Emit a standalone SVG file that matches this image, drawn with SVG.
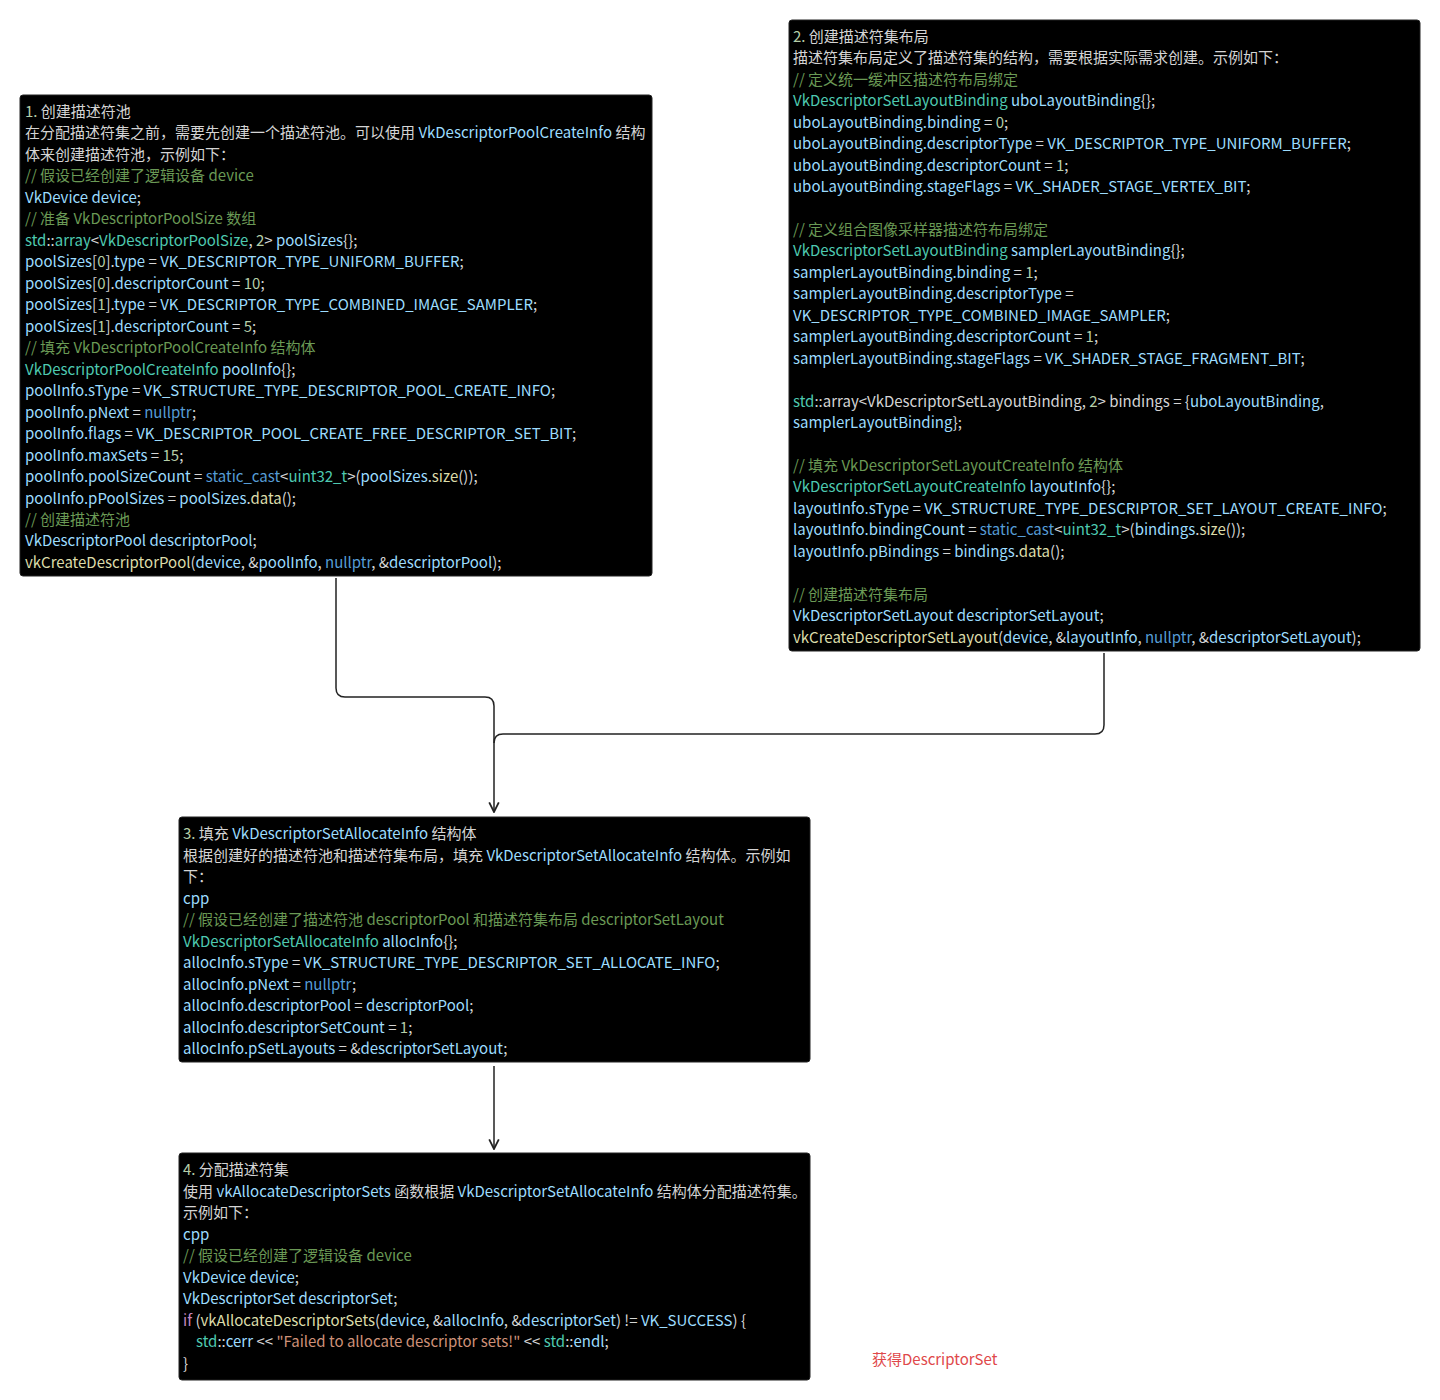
<svg xmlns="http://www.w3.org/2000/svg" width="1440" height="1400" viewBox="0 0 1440 1400">
<defs>
<style>
text{font-family:"Noto Sans CJK SC","Noto Sans",sans-serif;font-size:15px;fill:#d4d4d4}
.box{fill:#000;stroke:#222;stroke-width:1}
.v{fill:#9cdcfe}.ty{fill:#4ec9b0}.c{fill:#6a9955}.f{fill:#dcdcaa}.k{fill:#569cd6}.n{fill:#b5cea8}.s{fill:#ce9178}.p{fill:#c586c0}
.e{fill:none;stroke:#222;stroke-width:1.5}
</style>
<marker id="a" viewBox="0 0 10 10" refX="9" refY="5" markerWidth="8" markerHeight="8" orient="auto"><path d="M1 1L9 5L1 9" fill="none" stroke="#222" stroke-width="1.5"/></marker>
</defs>
<rect width="1440" height="1400" fill="#fff"/>
<g id="edges">
<path class="e" d="M336 578V688Q336 697 345 697H485Q494 697 494 706V812" marker-end="url(#a)"/>
<path class="e" d="M1104 653V725Q1104 734 1095 734H503Q494 734 494 743"/>
<path class="e" d="M494 1066V1149" marker-end="url(#a)"/>
</g>
<g id="n1">
<rect class="box" x="20" y="95" width="632" height="481" rx="3"/>
<text x="25" y="117"><tspan class="n">1.</tspan> 创建描述符池</text>
<text x="25" y="138">在分配描述符集之前，需要先创建一个描述符池。可以使用 <tspan class="v">VkDescriptorPoolCreateInfo</tspan> 结构</text>
<text x="25" y="160">体来创建描述符池，示例如下：</text>
<text x="25" y="181" class="c">// 假设已经创建了逻辑设备 device</text>
<text x="25" y="203" class="v">VkDevice device<tspan fill="#d4d4d4">;</tspan></text>
<text x="25" y="224" class="c">// 准备 VkDescriptorPoolSize 数组</text>
<text x="25" y="246"><tspan class="ty">std</tspan>::<tspan class="ty">array</tspan>&lt;<tspan class="ty">VkDescriptorPoolSize</tspan>, <tspan class="n">2</tspan>&gt; <tspan class="v">poolSizes</tspan>{};</text>
<text x="25" y="267"><tspan class="v">poolSizes</tspan>[<tspan class="n">0</tspan>].<tspan class="v">type</tspan> = <tspan class="v">VK_DESCRIPTOR_TYPE_UNIFORM_BUFFER</tspan>;</text>
<text x="25" y="289"><tspan class="v">poolSizes</tspan>[<tspan class="n">0</tspan>].<tspan class="v">descriptorCount</tspan> = <tspan class="n">10</tspan>;</text>
<text x="25" y="310"><tspan class="v">poolSizes</tspan>[<tspan class="n">1</tspan>].<tspan class="v">type</tspan> = <tspan class="v">VK_DESCRIPTOR_TYPE_COMBINED_IMAGE_SAMPLER</tspan>;</text>
<text x="25" y="332"><tspan class="v">poolSizes</tspan>[<tspan class="n">1</tspan>].<tspan class="v">descriptorCount</tspan> = <tspan class="n">5</tspan>;</text>
<text x="25" y="353" class="c">// 填充 VkDescriptorPoolCreateInfo 结构体</text>
<text x="25" y="375"><tspan class="ty">VkDescriptorPoolCreateInfo</tspan> <tspan class="v">poolInfo</tspan>{};</text>
<text x="25" y="396"><tspan class="v">poolInfo.sType</tspan> = <tspan class="v">VK_STRUCTURE_TYPE_DESCRIPTOR_POOL_CREATE_INFO</tspan>;</text>
<text x="25" y="418"><tspan class="v">poolInfo.pNext</tspan> = <tspan class="k">nullptr</tspan>;</text>
<text x="25" y="439"><tspan class="v">poolInfo.flags</tspan> = <tspan class="v">VK_DESCRIPTOR_POOL_CREATE_FREE_DESCRIPTOR_SET_BIT</tspan>;</text>
<text x="25" y="461"><tspan class="v">poolInfo.maxSets</tspan> = <tspan class="n">15</tspan>;</text>
<text x="25" y="482"><tspan class="v">poolInfo.poolSizeCount</tspan> = <tspan class="k">static_cast</tspan>&lt;<tspan class="ty">uint32_t</tspan>&gt;(<tspan class="v">poolSizes</tspan>.<tspan class="f">size</tspan>());</text>
<text x="25" y="504"><tspan class="v">poolInfo.pPoolSizes</tspan> = <tspan class="v">poolSizes</tspan>.<tspan class="f">data</tspan>();</text>
<text x="25" y="525" class="c">// 创建描述符池</text>
<text x="25" y="546"><tspan class="v">VkDescriptorPool descriptorPool</tspan>;</text>
<text x="25" y="568"><tspan class="f">vkCreateDescriptorPool</tspan>(<tspan class="v">device</tspan>, &amp;<tspan class="v">poolInfo</tspan>, <tspan class="k">nullptr</tspan>, &amp;<tspan class="v">descriptorPool</tspan>);</text>
</g>
<g id="n2">
<rect class="box" x="789" y="20" width="631" height="631" rx="3"/>
<text x="793" y="42"><tspan class="n">2.</tspan> 创建描述符集布局</text>
<text x="793" y="63">描述符集布局定义了描述符集的结构，需要根据实际需求创建。示例如下：</text>
<text x="793" y="85" class="c">// 定义统一缓冲区描述符布局绑定</text>
<text x="793" y="106"><tspan class="ty">VkDescriptorSetLayoutBinding</tspan> <tspan class="v">uboLayoutBinding</tspan>{};</text>
<text x="793" y="128"><tspan class="v">uboLayoutBinding.binding</tspan> = <tspan class="n">0</tspan>;</text>
<text x="793" y="149"><tspan class="v">uboLayoutBinding.descriptorType</tspan> = <tspan class="v">VK_DESCRIPTOR_TYPE_UNIFORM_BUFFER</tspan>;</text>
<text x="793" y="171"><tspan class="v">uboLayoutBinding.descriptorCount</tspan> = <tspan class="n">1</tspan>;</text>
<text x="793" y="192"><tspan class="v">uboLayoutBinding.stageFlags</tspan> = <tspan class="v">VK_SHADER_STAGE_VERTEX_BIT</tspan>;</text>
<text x="793" y="235" class="c">// 定义组合图像采样器描述符布局绑定</text>
<text x="793" y="256"><tspan class="ty">VkDescriptorSetLayoutBinding</tspan> <tspan class="v">samplerLayoutBinding</tspan>{};</text>
<text x="793" y="278"><tspan class="v">samplerLayoutBinding.binding</tspan> = <tspan class="n">1</tspan>;</text>
<text x="793" y="299"><tspan class="v">samplerLayoutBinding.descriptorType</tspan> =</text>
<text x="793" y="321"><tspan class="v">VK_DESCRIPTOR_TYPE_COMBINED_IMAGE_SAMPLER</tspan>;</text>
<text x="793" y="342"><tspan class="v">samplerLayoutBinding.descriptorCount</tspan> = <tspan class="n">1</tspan>;</text>
<text x="793" y="364"><tspan class="v">samplerLayoutBinding.stageFlags</tspan> = <tspan class="v">VK_SHADER_STAGE_FRAGMENT_BIT</tspan>;</text>
<text x="793" y="407"><tspan class="ty">std</tspan>::array&lt;VkDescriptorSetLayoutBinding, <tspan class="n">2</tspan>&gt; bindings = {<tspan class="v">uboLayoutBinding</tspan>,</text>
<text x="793" y="428"><tspan class="v">samplerLayoutBinding</tspan>};</text>
<text x="793" y="471" class="c">// 填充 VkDescriptorSetLayoutCreateInfo 结构体</text>
<text x="793" y="492"><tspan class="ty">VkDescriptorSetLayoutCreateInfo</tspan> <tspan class="v">layoutInfo</tspan>{};</text>
<text x="793" y="514"><tspan class="v">layoutInfo.sType</tspan> = <tspan class="v">VK_STRUCTURE_TYPE_DESCRIPTOR_SET_LAYOUT_CREATE_INFO</tspan>;</text>
<text x="793" y="535"><tspan class="v">layoutInfo.bindingCount</tspan> = <tspan class="k">static_cast</tspan>&lt;<tspan class="ty">uint32_t</tspan>&gt;(<tspan class="v">bindings</tspan>.<tspan class="f">size</tspan>());</text>
<text x="793" y="557"><tspan class="v">layoutInfo.pBindings</tspan> = <tspan class="v">bindings</tspan>.<tspan class="f">data</tspan>();</text>
<text x="793" y="600" class="c">// 创建描述符集布局</text>
<text x="793" y="621"><tspan class="v">VkDescriptorSetLayout descriptorSetLayout</tspan>;</text>
<text x="793" y="643"><tspan class="f">vkCreateDescriptorSetLayout</tspan>(<tspan class="v">device</tspan>, &amp;<tspan class="v">layoutInfo</tspan>, <tspan class="k">nullptr</tspan>, &amp;<tspan class="v">descriptorSetLayout</tspan>);</text>
</g>
<g id="n3">
<rect class="box" x="179" y="817" width="631" height="245" rx="3"/>
<text x="183" y="839"><tspan class="n">3.</tspan> 填充 <tspan class="v">VkDescriptorSetAllocateInfo</tspan> 结构体</text>
<text x="183" y="861">根据创建好的描述符池和描述符集布局，填充 <tspan class="v">VkDescriptorSetAllocateInfo</tspan> 结构体。示例如</text>
<text x="183" y="882">下：</text>
<text x="183" y="904" class="v">cpp</text>
<text x="183" y="925" class="c">// 假设已经创建了描述符池 descriptorPool 和描述符集布局 descriptorSetLayout</text>
<text x="183" y="947"><tspan class="ty">VkDescriptorSetAllocateInfo</tspan> <tspan class="v">allocInfo</tspan>{};</text>
<text x="183" y="968"><tspan class="v">allocInfo.sType</tspan> = <tspan class="v">VK_STRUCTURE_TYPE_DESCRIPTOR_SET_ALLOCATE_INFO</tspan>;</text>
<text x="183" y="990"><tspan class="v">allocInfo.pNext</tspan> = <tspan class="k">nullptr</tspan>;</text>
<text x="183" y="1011"><tspan class="v">allocInfo.descriptorPool</tspan> = <tspan class="v">descriptorPool</tspan>;</text>
<text x="183" y="1033"><tspan class="v">allocInfo.descriptorSetCount</tspan> = <tspan class="n">1</tspan>;</text>
<text x="183" y="1054"><tspan class="v">allocInfo.pSetLayouts</tspan> = &amp;<tspan class="v">descriptorSetLayout</tspan>;</text>
</g>
<g id="n4">
<rect class="box" x="179" y="1153" width="631" height="227" rx="3"/>
<text x="183" y="1175"><tspan class="n">4.</tspan> 分配描述符集</text>
<text x="183" y="1197">使用 <tspan class="v">vkAllocateDescriptorSets</tspan> 函数根据 <tspan class="v">VkDescriptorSetAllocateInfo</tspan> 结构体分配描述符集。</text>
<text x="183" y="1218">示例如下：</text>
<text x="183" y="1240" class="v">cpp</text>
<text x="183" y="1261" class="c">// 假设已经创建了逻辑设备 device</text>
<text x="183" y="1283"><tspan class="v">VkDevice device</tspan>;</text>
<text x="183" y="1304"><tspan class="v">VkDescriptorSet descriptorSet</tspan>;</text>
<text x="183" y="1326"><tspan class="p">if</tspan> (<tspan class="f">vkAllocateDescriptorSets</tspan>(<tspan class="v">device</tspan>, &amp;<tspan class="v">allocInfo</tspan>, &amp;<tspan class="v">descriptorSet</tspan>) != <tspan class="v">VK_SUCCESS</tspan>) {</text>
<text x="196" y="1347"><tspan class="ty">std</tspan>::<tspan class="v">cerr</tspan> &lt;&lt; <tspan class="s">"Failed to allocate descriptor sets!"</tspan> &lt;&lt; <tspan class="ty">std</tspan>::<tspan class="v">endl</tspan>;</text>
<text x="183" y="1369">}</text>
</g>
<g id="label">
<text x="872" y="1365" style="fill:#e0484a">获得DescriptorSet</text>
</g>
</svg>
